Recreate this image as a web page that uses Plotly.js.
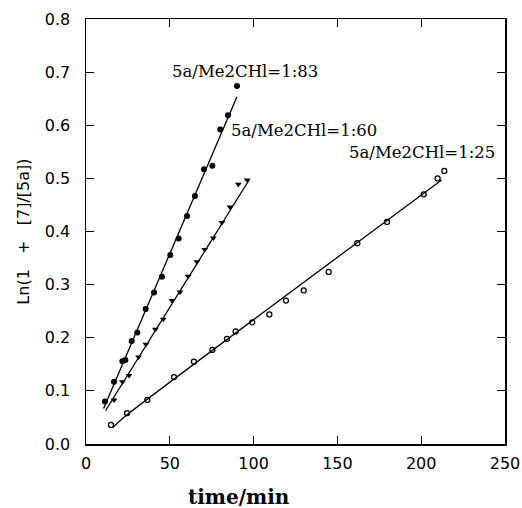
<!DOCTYPE html>
<html>
<head>
<meta charset="utf-8">
<script src="https://cdn.plot.ly/plotly-3.0.1.min.js"></script>
<style>html,body{margin:0;padding:0;background:#fff;}#chart{width:522px;height:508px;}</style>
</head>
<body>
<div id="chart"></div>
<script>
// Series 5a/Me2CHI = 1:83 (filled circles)
const t83 = [11.3, 16.7, 21.7, 23.5, 27.3, 30.6, 35.6, 40.6, 45.3, 50.3, 55.3, 60.3, 65.0, 70.4, 75.4, 80.1, 84.7, 90.1];
const v83 = [0.080, 0.117, 0.156, 0.158, 0.194, 0.210, 0.254, 0.285, 0.315, 0.356, 0.387, 0.429, 0.467, 0.517, 0.524, 0.592, 0.619, 0.674];
// Series 5a/Me2CHI = 1:60 (filled triangles)
const t60 = [16.7, 21.7, 25.7, 31.4, 35.8, 41.4, 46.1, 51.3, 56.1, 60.9, 66.2, 70.8, 76.0, 81.1, 85.9, 90.9, 96.2];
const v60 = [0.083, 0.117, 0.129, 0.164, 0.188, 0.216, 0.235, 0.270, 0.286, 0.316, 0.343, 0.366, 0.388, 0.417, 0.446, 0.489, 0.497];
// Series 5a/Me2CHI = 1:25 (open circles)
const t25 = [14.9, 24.5, 36.6, 52.5, 64.4, 75.4, 84.1, 89.3, 99.2, 109.4, 119.3, 129.9, 144.8, 161.9, 179.6, 201.5, 209.8, 213.8];
const v25 = [0.036, 0.058, 0.083, 0.126, 0.155, 0.177, 0.198, 0.212, 0.229, 0.244, 0.270, 0.289, 0.324, 0.378, 0.418, 0.470, 0.500, 0.514];
// Fitted lines
const fit83_t = [10.5, 90.0];
const fit83_v = [0.067, 0.653];
const fit60_t = [11.7, 97.3];
const fit60_v = [0.063, 0.497];
const fit25_t = [15.9, 24.5, 212.2];
const fit25_v = [0.031, 0.055, 0.497];
// Labels
const seriesLabels = ['5a/Me2CHl=1:83', '5a/Me2CHl=1:60', '5a/Me2CHl=1:25'];
const labelT = [94.9, 130.0, 200.5];
const labelV = [0.702, 0.591, 0.548];
const xTicks = [0, 50, 100, 150, 200, 250];
const yTicks = [0.0, 0.1, 0.2, 0.3, 0.4, 0.5, 0.6, 0.7, 0.8];
const xTitle = 'time/min';
const yTitle = 'Ln(1\u00A0\u00A0\u00A0+\u00A0\u00A0\u00A0[7]/[5a])';

const lineStyle = {color: '#000', width: 1.3};
const traces = [
  {x: fit83_t, y: fit83_v, mode: 'lines', line: lineStyle, hoverinfo: 'skip'},
  {x: fit60_t, y: fit60_v, mode: 'lines', line: lineStyle, hoverinfo: 'skip'},
  {x: fit25_t, y: fit25_v, mode: 'lines', line: Object.assign({}, lineStyle, {shape: 'spline', smoothing: 0.6}), hoverinfo: 'skip'},
  {x: t83, y: v83, mode: 'markers', name: seriesLabels[0], marker: {symbol: 'circle', size: 6, color: '#000'}},
  {x: t60, y: v60, mode: 'markers', name: seriesLabels[1], marker: {symbol: 'triangle-down', size: 6, color: '#000'}},
  {x: t25, y: v25, mode: 'markers', name: seriesLabels[2], marker: {symbol: 'circle-open', size: 5, color: '#000', line: {width: 1.3, color: '#000'}}}
];

const annotations = seriesLabels.map((s, i) => ({
  x: labelT[i], y: labelV[i], xref: 'x', yref: 'y', text: s, showarrow: false,
  xanchor: 'center', yanchor: 'middle',
  font: {family: 'DejaVu Serif', size: 16.5, color: '#000'}
}));
annotations.push({
  x: (239 - 86) / 419, y: -0.125, xref: 'paper', yref: 'paper', text: xTitle, showarrow: false,
  xanchor: 'center', yanchor: 'middle',
  font: {family: 'DejaVu Serif', size: 20, color: '#000', weight: 'bold'}
});
annotations.push({
  x: -0.150, y: 0.5, xref: 'paper', yref: 'paper', text: yTitle, showarrow: false,
  textangle: -90, xanchor: 'center', yanchor: 'middle',
  font: {family: 'DejaVu Sans', size: 16, color: '#000'}
});

const axisCommon = {
  showgrid: false, zeroline: false, showline: true, linecolor: '#000', linewidth: 1.5,
  mirror: 'ticks', ticks: 'inside', ticklen: 8, tickwidth: 1.2, tickcolor: '#000',
  tickfont: {family: 'DejaVu Sans', size: 16, color: '#000'}
};

const layout = {
  width: 522, height: 508,
  margin: {l: 86, r: 17, t: 19, b: 64},
  paper_bgcolor: '#fff', plot_bgcolor: '#fff',
  showlegend: false,
  xaxis: Object.assign({}, axisCommon, {range: [0, 250], tickvals: xTicks, ticktext: xTicks.map(String), ticklabelstandoff: 4}),
  yaxis: Object.assign({}, axisCommon, {range: [0, 0.8], tickvals: yTicks, ticktext: yTicks.map(v => v.toFixed(1)), ticklabelstandoff: 11}),
  annotations: annotations
};

Plotly.newPlot('chart', traces, layout, {staticPlot: true, displayModeBar: false});
</script>
</body>
</html>
